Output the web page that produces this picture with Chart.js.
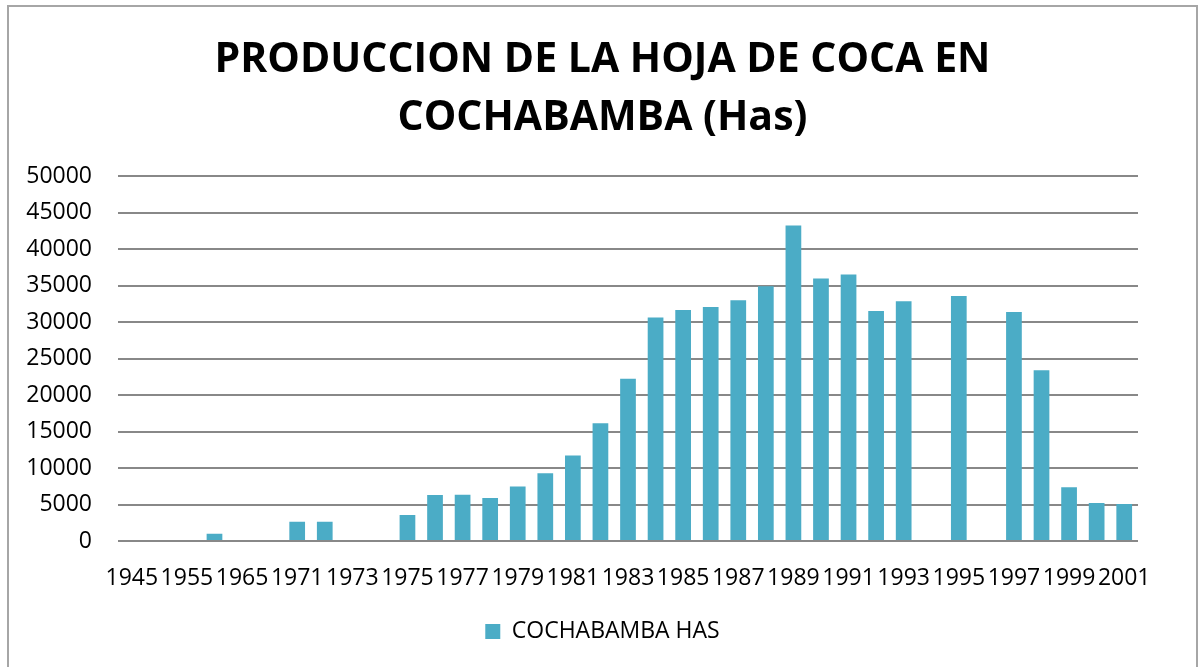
<!DOCTYPE html>
<html>
<head>
<meta charset="utf-8">
<script src="https://cdn.jsdelivr.net/npm/chart.js@4/dist/chart.umd.min.js"></script>
<style>
  html, body { margin: 0; padding: 0; background: #fff; overflow: hidden; }
  #box {
    position: absolute; left: 7px; top: 5px;
    width: 1187px; height: 664px;
    border: 2px solid #a6a6a6;
  }
  #chart { display: block; }
</style>
</head>
<body>
<div id="box"><canvas id="chart" width="1187" height="660"></canvas></div>
<script>
const years = ['1945', '1950', '1955', '1960', '1965', '1970',
  '1971', '1972', '1973', '1974', '1975', '1976', '1977', '1978', '1979', '1980',
  '1981', '1982', '1983', '1984', '1985', '1986', '1987', '1988', '1989', '1990',
  '1991', '1992', '1993', '1994', '1995', '1996', '1997', '1998', '1999', '2000', '2001']

const hectares = [null, null, null, 1000, null, null,
  2650, 2650, null, null, 3570, 6320, 6340, 5900, 7460, 9290,
  11720, 16160, 22250, 30670, 31680, 32090, 33010, 34930, 43270, 35990,
  36540, 31540, 32870, null, 33600, null, 31400, 23430, 7370, 5220, 5080]

const titleLines = ['PRODUCCION DE LA HOJA DE COCA EN', 'COCHABAMBA (Has)']
const seriesName = 'COCHABAMBA HAS'

const font = "'Open Sans', sans-serif"
const ctx = document.getElementById('chart').getContext('2d')

new Chart(ctx, {
  type: 'bar',
  data: {
    labels: years,
    datasets: [{
      label: seriesName,
      data: hectares,
      backgroundColor: '#4BACC6',
      borderWidth: 0,
      barPercentage: 0.57,
      categoryPercentage: 1
    }]
  },
  options: {
    responsive: false,
    animation: false,
    layout: { padding: { left: 0, right: 0, bottom: 14, top: 0 } },
    plugins: {
      title: {
        display: true,
        text: titleLines,
        color: '#000',
        font: { family: font, size: 41, weight: 'bold', lineHeight: 1.42 },
        padding: { top: 24, bottom: 29 }
      },
      legend: {
        position: 'bottom',
        labels: {
          color: '#000',
          font: { family: font, size: 23 },
          boxWidth: 15,
          boxHeight: 15,
          padding: 10
        }
      },
      tooltip: { enabled: false }
    },
    scales: {
      x: {
        grid: { display: false, drawTicks: false },
        border: { display: false },
        ticks: {
          color: '#000',
          font: { family: font, size: 23 },
          autoSkip: false,
          maxRotation: 0,
          minRotation: 0,
          padding: 24,
          callback: function (v, i) { return i % 2 === 0 ? this.getLabelForValue(v) : '' }
        },
        afterFit: s => { s.height = 69 }
      },
      y: {
        min: 0,
        max: 50000,
        grid: { color: '#888888', lineWidth: 2, drawTicks: false },
        border: { display: false },
        ticks: {
          stepSize: 5000,
          color: '#000',
          font: { family: font, size: 23 },
          padding: 26,
          callback: v => String(v)
        },
        afterFit: s => { s.width = 109 }
      },
      // empty right-hand axis only to keep the plot's right margin
      yRight: {
        position: 'right',
        min: 0,
        max: 50000,
        grid: { display: false },
        border: { display: false },
        ticks: { display: false },
        afterFit: s => { s.width = 58 }
      }
    }
  }
})
</script>
</body>
</html>
